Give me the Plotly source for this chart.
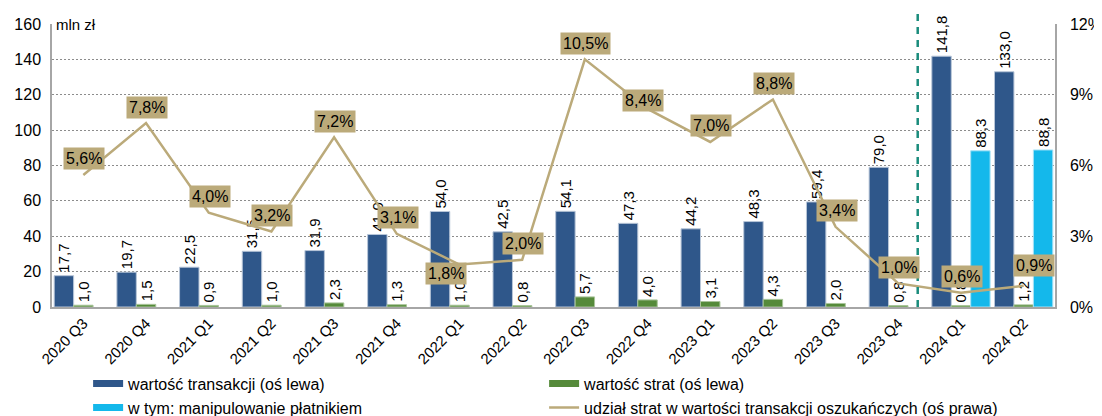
import plotly.graph_objects as go

# ---- data ----
categories = ["2020 Q3", "2020 Q4", "2021 Q1", "2021 Q2", "2021 Q3", "2021 Q4",
              "2022 Q1", "2022 Q2", "2022 Q3", "2022 Q4", "2023 Q1", "2023 Q2",
              "2023 Q3", "2023 Q4", "2024 Q1", "2024 Q2"]
transakcje = [17.7, 19.7, 22.5, 31.5, 31.9, 41.0, 54.0, 42.5, 54.1, 47.3, 44.2, 48.3,
              59.4, 79.0, 141.8, 133.0]
straty = [1.0, 1.5, 0.9, 1.0, 2.3, 1.3, 1.0, 0.8, 5.7, 4.0, 3.1, 4.3, 2.0, 0.8, 0.8, 1.2]
manipulowanie = [None] * 14 + [88.3, 88.8]
udzial = [5.6, 7.8, 4.0, 3.2, 7.2, 3.1, 1.8, 2.0, 10.5, 8.4, 7.0, 8.8, 3.4, 1.0, 0.6, 0.9]

names = ["wartość transakcji (oś lewa)", "wartość strat (oś lewa)",
         "w tym: manipulowanie płatnikiem",
         "udział strat w wartości transakcji oszukańczych (oś prawa)"]

# ---- style ----
FONT = "Liberation Sans, Arial, sans-serif"
C_BLUE = "#2F578A"
C_GREEN = "#558A3A"
C_CYAN = "#14B8EB"
C_TAN = "#BBAA7A"
C_TEAL = "#1A8C7C"
GRID = "#8C8C8C"
AXIS = "#A6A6A6"


def pl(v):
    return None if v is None else f"{v:.1f}".replace(".", ",")


fig = go.Figure()


def add_bar(vals, name, color, lc):
    fig.add_trace(go.Bar(
        x=categories, y=vals, name=name, showlegend=False,
        marker=dict(color=color, line=dict(color=lc, width=1)),
        text=[pl(v) for v in vals], textposition="outside", textangle=-90,
        constraintext="none", cliponaxis=False,
        textfont=dict(family=FONT, size=15, color="black"),
        yaxis="y",
    ))


add_bar(transakcje, names[0], C_BLUE, "#B8C6D8")
add_bar(straty, names[1], C_GREEN, "#A9C49A")
add_bar(manipulowanie, names[2], C_CYAN, "#A8E2F5")

fig.add_trace(go.Scatter(
    x=categories, y=udzial, name=names[3], mode="lines", showlegend=False,
    line=dict(color=C_TAN, width=2.5), yaxis="y2", cliponaxis=False,
))

# legend entries (Excel-like wide swatches)
for nm, col, w in [(names[0], C_BLUE, 7), (names[1], C_GREEN, 7),
                   (names[2], C_CYAN, 7), (names[3], C_TAN, 2.5)]:
    fig.add_trace(go.Scatter(
        x=[None], y=[None], name=nm, mode="lines",
        line=dict(color=col, width=w), showlegend=True,
    ))

# line labels (boxes), default above the point; a few moved by hand
label_offsets = {6: (-13, -9), 9: (-5, 8), 15: (10, 20)}
annotations = []
for i, (c, v) in enumerate(zip(categories, udzial)):
    dx, dy = label_offsets.get(i, (1, 16))
    annotations.append(dict(
        x=c, y=v, xref="x", yref="y2", text=pl(v) + "%", showarrow=False,
        xanchor="center", yanchor="middle", xshift=dx, yshift=dy,
        bgcolor=C_TAN, borderpad=2,
        font=dict(family=FONT, size=16, color="black"),
    ))
annotations.append(dict(
    x=0, y=1, xref="paper", yref="paper", text="mln zł", showarrow=False,
    xanchor="left", yanchor="middle", xshift=2,
    font=dict(family=FONT, size=15, color="black"),
))

fig.update_layout(
    width=1094, height=408,
    margin=dict(l=44, r=47, t=16, b=109, autoexpand=False),
    paper_bgcolor="white", plot_bgcolor="white",
    font=dict(family=FONT, size=15, color="black"),
    barmode="group", bargap=0.07, bargroupgap=0,
    showlegend=True,
    legend=dict(
        orientation="h", x=0.036, y=-0.211, xanchor="left", yanchor="top",
        entrywidth=411, entrywidthmode="pixels", traceorder="normal",
        font=dict(family=FONT, size=16, color="black"),
        itemwidth=30, tracegroupgap=0, bgcolor="rgba(0,0,0,0)",
    ),
    xaxis=dict(
        type="category", range=[-0.5, 15.5], tickangle=-45,
        showline=True, linecolor=AXIS, linewidth=1.5, ticks="",
        showgrid=False, automargin=False,
        tickfont=dict(family=FONT, size=15, color="black"),
    ),
    yaxis=dict(
        range=[0, 160], dtick=20, showline=True, linecolor=AXIS, linewidth=1.5,
        showgrid=True, gridcolor=GRID, griddash="2px,2px", gridwidth=1,
        ticks="", zeroline=False, automargin=False, ticklabelstandoff=6,
        tickfont=dict(family=FONT, size=16, color="black"),
    ),
    yaxis2=dict(
        overlaying="y", side="right", range=[0, 12], dtick=3, ticksuffix="%",
        showline=True, linecolor=AXIS, linewidth=1.5, showgrid=False,
        ticks="", zeroline=False, automargin=False, ticklabelstandoff=10,
        tickfont=dict(family=FONT, size=16, color="black"),
    ),
    annotations=annotations,
    shapes=[dict(
        type="line", xref="x", yref="paper", x0=13.31, x1=13.31, y0=0, y1=1.042,
        line=dict(color=C_TEAL, width=2.5, dash="7px,6px"),
    )],
)

fig.write_html("out.html")
